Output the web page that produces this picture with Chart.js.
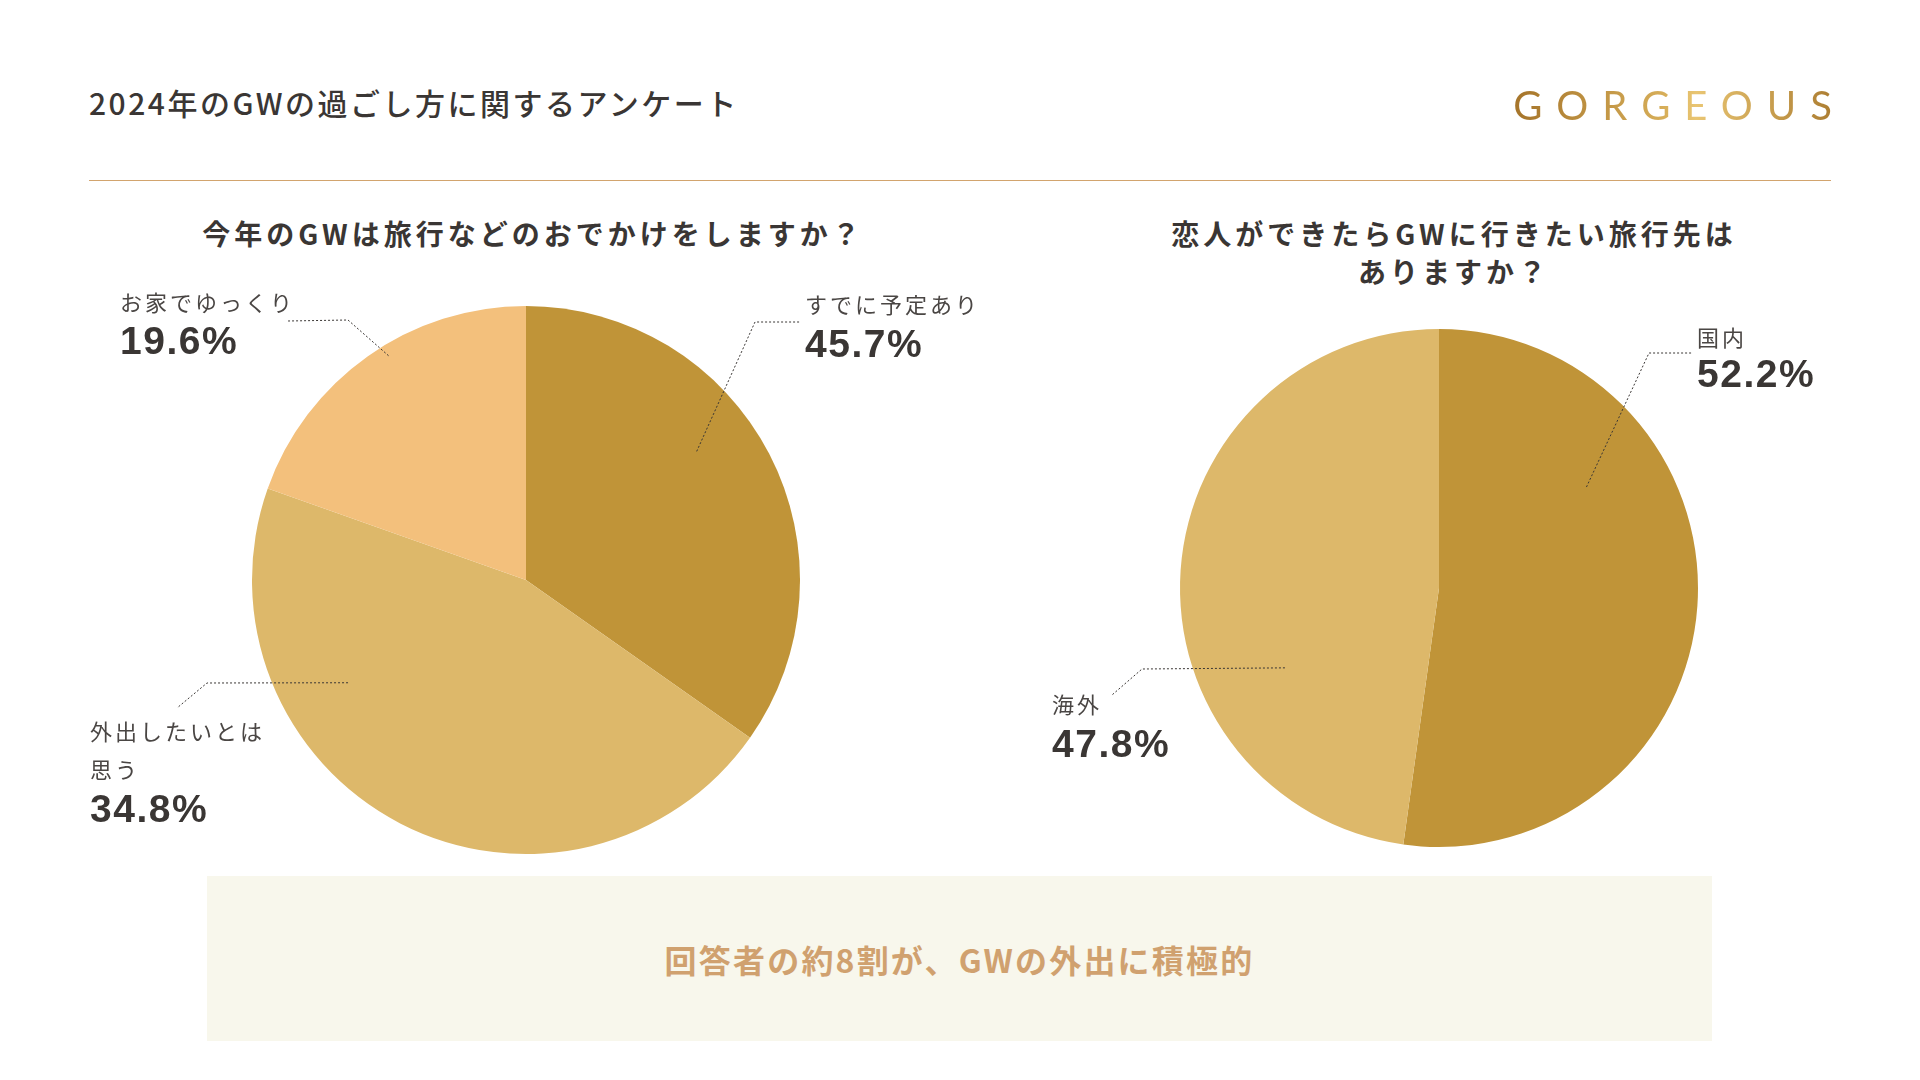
<!DOCTYPE html>
<html lang="ja">
<head>
<meta charset="UTF-8">
<title>2024年のGWの過ごし方に関するアンケート</title>
<script src="https://cdn.jsdelivr.net/npm/chart.js@4.4.1/dist/chart.umd.min.js"></script>
<style>
  body {
    margin: 0;
    width: 1920px;
    height: 1080px;
    background: #fff;
    position: relative;
    overflow: hidden;
    font-family: "Noto Sans CJK JP", sans-serif;
    color: #3a3634;
  }
  .title {
    position: absolute; left: 89px; top: 83px;
    font-size: 30px; font-weight: 500; line-height: 38px; letter-spacing: 2.5px;
  }
  .rule {
    position: absolute; left: 89px; top: 180px; width: 1742px; height: 1px;
    background: #d2a46e;
  }
  .logo {
    position: absolute; right: 88px; top: 80px;
    font-family: "Lato", "DejaVu Sans", sans-serif; font-weight: 400;
    font-size: 40px; line-height: 50px; letter-spacing: 14px; margin-right: -14px;
    background: linear-gradient(90deg, #a5742a 0%, #d6ad58 45%, #e9c572 55%, #a7772c 100%);
    -webkit-background-clip: text; background-clip: text; color: transparent;
  }
  .q {
    position: absolute; width: 800px; text-align: center;
    font-size: 28px; font-weight: 700; line-height: 38px; letter-spacing: 4px;
  }
  #q1title { left: 133px; top: 214px; }
  #q2title { left: 1054px; top: 214px; }
  canvas { position: absolute; }
  #pie1 { left: 60px; top: 280px; }
  #pie2 { left: 1000px; top: 280px; }
  .summary {
    position: absolute; left: 207px; top: 876px; width: 1505px; height: 165px;
    background: #f8f7ec; color: #d0a16f;
    font-size: 32px; font-weight: 700; letter-spacing: 2.2px;
    display: flex; align-items: center; justify-content: center;
  }
</style>
</head>
<body>
<div class="title">2024年のGWの過ごし方に関するアンケート</div>
<div class="logo">GORGEOUS</div>
<div class="rule"></div>
<div class="q" id="q1title">今年のGWは旅行などのおでかけをしますか？</div>
<div class="q" id="q2title">恋人ができたらGWに行きたい旅行先は<br>ありますか？</div>
<canvas id="pie1" width="940" height="600"></canvas>
<canvas id="pie2" width="880" height="620"></canvas>
<div class="summary">回答者の約8割が、GWの外出に積極的</div>

<script>
// ---- data ----
// Q1: slice sizes as they are drawn in the reference (dark, medium, light)
const q1Categories = ["すでに予定あり", "外出したいとは思う", "お家でゆっくり"];
const q1Values = [34.8, 45.7, 19.6];
const q1LabelLines = [["すでに予定あり"], ["外出したいとは", "思う"], ["お家でゆっくり"]];
const q1Percents = ["45.7%", "34.8%", "19.6%"];

// Q2
const q2Categories = ["国内", "海外"];
const q2Values = [52.2, 47.8];
const q2LabelLines = [["国内"], ["海外"]];
const q2Percents = ["52.2%", "47.8%"];

const sliceColors = ["#c09438", "#ddb86a", "#f3c07c"];

// callout layout, offsets from the pie centre (px)
const q1Callouts = [
  { angle: 53, r: 0.78, elbow: [229, -258], end: [274, -258], text: [279, -275], pct: -234 },
  { angle: 240, r: 0.75, elbow: [-319, 103], end: [-349, 128], text: [-436, 152], pct: 231 },
  { angle: 328.5, r: 0.96, elbow: [-178, -260], end: [-238, -259], text: [-406, -277], pct: -237 }
];
const q2Callouts = [
  { angle: 55.6, r: 0.69, elbow: [210, -235], end: [254, -235], text: [258, -250], pct: -212 },
  { angle: 242.6, r: 0.67, elbow: [-297, 81], end: [-327, 107], text: [-387, 117], pct: 158 }
];

// ---- callout plugin ----
const calloutPlugin = {
  id: "callouts",
  afterDatasetsDraw(chart, args, opts) {
    const first = chart.getDatasetMeta(0).data[0];
    const cx = first.x, cy = first.y, R = first.outerRadius;
    const ctx = chart.ctx;
    opts.items.forEach((it, i) => {
      const a = (it.angle - 90) * Math.PI / 180;
      const ax = cx + Math.cos(a) * R * it.r;
      const ay = cy + Math.sin(a) * R * it.r;
      ctx.save();
      ctx.strokeStyle = "#3a3634";
      ctx.lineWidth = 1;
      ctx.setLineDash([2, 2]);
      ctx.beginPath();
      ctx.moveTo(ax, ay);
      ctx.lineTo(cx + it.elbow[0], cy + it.elbow[1]);
      ctx.lineTo(cx + it.end[0], cy + it.end[1]);
      ctx.stroke();
      ctx.setLineDash([]);

      ctx.textBaseline = "middle";
      ctx.textAlign = "left";
      ctx.fillStyle = "#4a4644";
      ctx.font = '400 22px "Noto Sans CJK JP"';
      ctx.letterSpacing = "3px";
      opts.lines[i].forEach((t, k) => {
        ctx.fillText(t, cx + it.text[0], cy + it.text[1] + k * 38);
      });
      ctx.fillStyle = "#3a3634";
      ctx.font = 'bold 39px "Liberation Sans"';
      ctx.letterSpacing = "1.5px";
      ctx.fillText(opts.pcts[i], cx + it.text[0], cy + it.pct);
      ctx.restore();
    });
  }
};

function makePie(id, labels, values, padding, callouts, lines, pcts) {
  return new Chart(document.getElementById(id), {
    type: "pie",
    data: {
      labels: labels,
      datasets: [{
        data: values,
        backgroundColor: sliceColors.slice(0, values.length),
        borderWidth: 0,
        hoverOffset: 0
      }]
    },
    options: {
      responsive: false,
      animation: false,
      layout: { padding: padding },
      plugins: {
        legend: { display: false },
        tooltip: { enabled: false },
        callouts: { items: callouts, lines: lines, pcts: pcts }
      }
    },
    plugins: [calloutPlugin]
  });
}

makePie("pie1", q1Categories, q1Values,
  { top: 26, bottom: 26, left: 192, right: 200 }, q1Callouts, q1LabelLines, q1Percents);
makePie("pie2", q2Categories, q2Values,
  { top: 49, bottom: 53, left: 180, right: 182 }, q2Callouts, q2LabelLines, q2Percents);
</script>
</body>
</html>
